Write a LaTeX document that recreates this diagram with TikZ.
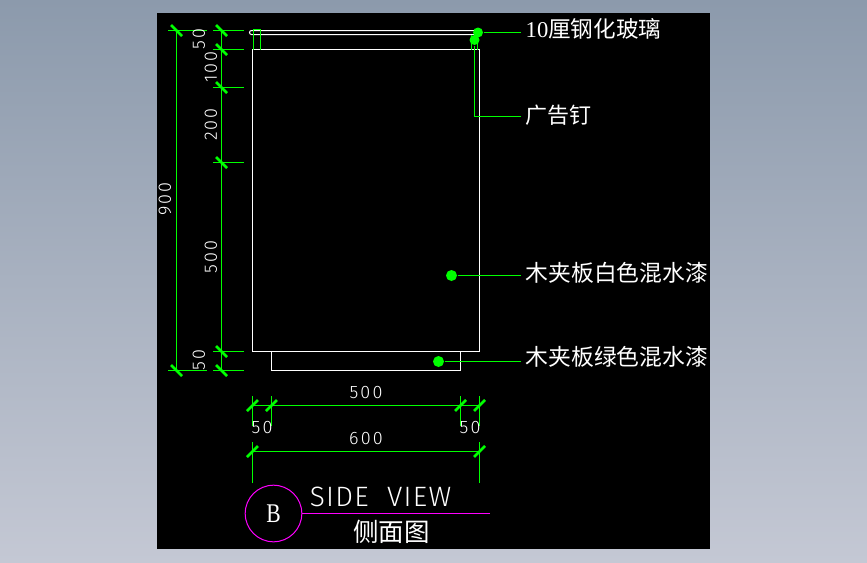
\documentclass[tikz,border=0pt]{standalone}
\usepackage{fontspec}
\setsansfont{Fira Sans Light}
\newfontfamily\cjkfont{Noto Sans CJK SC}
\newfontfamily\cadserif{Liberation Serif}
\definecolor{cadgreen}{RGB}{0,255,0}
\definecolor{cadmagenta}{RGB}{255,0,255}
\definecolor{skytop}{RGB}{140,154,172}
\definecolor{skybottom}{RGB}{196,200,212}
\begin{document}
\begin{tikzpicture}[x=1pt,y=-1pt,line width=1pt]
	\tikzset{dimline/.style={cadgreen,line width=1.4pt},
		outline/.style={white},
		dimtick/.style={cadgreen,line width=2.5pt},
		pinpoint/.style={circle,fill=cadgreen,inner sep=0,minimum size=10pt},
		notelabel/.style={white,anchor=west,inner xsep=4.5pt,inner ysep=0,font=\fontsize{22.8}{22.8}\cjkfont},
		dimlabel/.style={white,inner sep=0,font=\fontsize{18}{18}\sffamily\addfontfeature{LetterSpace=12}}}
	\useasboundingbox (0,0) rectangle (867,562);
	\shade[top color=skytop,bottom color=skybottom] (0,0) rectangle (867,562);
	\fill[black] (157,13) rectangle (710,549);

	% side view outline
	\draw[outline] (252.5,49.5) rectangle (479.5,351.5);
	\draw[outline] (271.5,351.5) -- (271.5,370.5) -- (460.5,370.5) -- (460.5,351.5);
	\draw[outline] (479,30.5) -- (251.5,30.5) arc[start angle=270,end angle=90,radius=2] -- (479,34.5);
	\draw[dimline] (253.5,49.5) -- (253.5,29.5) -- (260.5,29.5) -- (260.5,49.5);
	\draw[dimline] (471.5,49.5) -- (471.5,34.5);
	\draw[dimline] (477.5,49.5) -- (477.5,34.5);

	% leaders
	\node[pinpoint] at (478,32.5) (glass) {};
	\node[pinpoint] at (474.5,40) (nail) {};
	\node[pinpoint,minimum size=11pt] at (451.5,275.5) (white) {};
	\node[pinpoint,minimum size=11pt] at (438.5,361.5) (green) {};
	\node[notelabel,font=\fontsize{22.6}{22.6}\cjkfont] at (520.7,29) (glasstext) {{\cadserif 10}厘钢化玻璃};
	\node[notelabel,font=\fontsize{22}{22}\cjkfont] at (520.7,115) (nailtext) {广告钉};
	\node[notelabel] at (520.7,273) (whitetext) {木夹板白色混水漆};
	\node[notelabel] at (520.7,357) (greentext) {木夹板绿色混水漆};
	\coordinate (nailknee) at (474.5,116.5);
	\draw[dimline] (glass) -- (glass -| glasstext.west);
	\draw[dimline] (nail) -- (nailknee) -- (nailknee -| nailtext.west);
	\draw[dimline] (white) -- (white -| whitetext.west);
	\draw[dimline] (green) -- (green -| greentext.west);

	% vertical dimensions
	\coordinate (o1) at (176.5,30.5);
	\coordinate (o2) at (176.5,370.5);
	\coordinate (v1) at (221.5,30.5);
	\coordinate (v2) at (221.5,49.5);
	\coordinate (v3) at (221.5,87.5);
	\coordinate (v4) at (221.5,162.5);
	\coordinate (v5) at (221.5,351.5);
	\coordinate (v6) at (221.5,370.5);
	\draw[dimline] (o1) -- (o2);
	\draw[dimline] (v1) -- (v6);
	\foreach \p in {o1,o2} {
		\draw[dimline] ([xshift=-8.5pt]\p) -- ([xshift=30.5pt]\p);
		\draw[dimtick] ([shift={(-5.5,-5.5)}]\p) -- ([shift={(5.5,5.5)}]\p);
	}
	\foreach \p in {v1,v2,v3,v4,v5,v6} {
		\draw[dimline] ([xshift=-8.5pt]\p) -- ([xshift=22.5pt]\p);
		\draw[dimtick] ([shift={(-5.5,-5.5)}]\p) -- ([shift={(5.5,5.5)}]\p);
	}
	\node[dimlabel,rotate=90] at (165,199) (h900) {900};
	\node[dimlabel,rotate=90] at (199,39.5) (h50a) {50};
	\node[dimlabel,rotate=90] at (211,67) (h100) {100};
	\node[dimlabel,rotate=90] at (211,124.5) (h200) {200};
	\node[dimlabel,rotate=90] at (211,257) (h500) {500};
	\node[dimlabel,rotate=90] at (199,360) (h50b) {50};

	% horizontal dimensions
	\coordinate (a1) at (252.5,405.5);
	\coordinate (a2) at (271.5,405.5);
	\coordinate (a3) at (460.5,405.5);
	\coordinate (a4) at (479.5,405.5);
	\coordinate (b1) at (252.5,451.5);
	\coordinate (b2) at (479.5,451.5);
	\draw[dimline] (a1) -- (a4);
	\draw[dimline] (b1) -- (b2);
	\foreach \p in {a1,a2,a3,a4} {
		\draw[dimline] ([yshift=-20.5pt]\p) -- ([yshift=9.5pt]\p);
		\draw[dimtick] ([shift={(-5.5,5.5)}]\p) -- ([shift={(5.5,-5.5)}]\p);
	}
	\foreach \p in {b1,b2} {
		\draw[dimline] ([yshift=-31.5pt]\p) -- ([yshift=9.5pt]\p);
		\draw[dimtick] ([shift={(-5.5,5.5)}]\p) -- ([shift={(5.5,-5.5)}]\p);
	}
	\node[dimlabel] at (366,393) (w500) {500};
	\node[dimlabel] at (366,439) (w600) {600};
	\node[dimlabel] at (262,428) (w50a) {50};
	\node[dimlabel] at (470,428) (w50b) {50};

	% title
	\node[circle,draw=cadmagenta,minimum size=56.6pt,inner sep=0,text=white,font=\fontsize{27}{27}\cadserif\addfontfeature{FakeStretch=0.8}] at (273.5,513.5) (mark) {B};
	\coordinate (titleend) at (490,513.5);
	\draw[cadmagenta,line width=1.4pt] (mark) -- (titleend);
	\node[white,inner sep=0,font=\fontsize{28}{28}\sffamily\addfontfeature{LetterSpace=4.7}] at (380.5,497) (titleen) {SIDE\ \ VIEW};
	\node[white,inner sep=0,font=\fontsize{25.5}{25.5}\cjkfont] at (391.5,532) (titlecn) {侧面图};
\end{tikzpicture}
\end{document}
